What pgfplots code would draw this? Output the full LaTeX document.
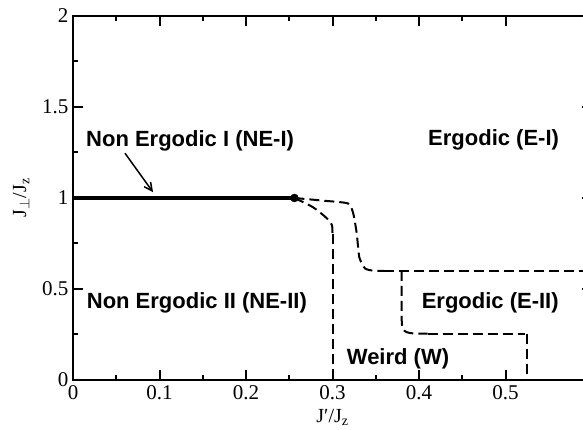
\documentclass[border=0pt]{standalone}
\usepackage{fontspec}
\setmainfont{Liberation Serif}
\newfontfamily\labfont{Liberation Sans}
\usepackage{pgfplots}
\pgfplotsset{compat=1.18}
\usetikzlibrary{arrows.meta}

\begin{document}
\begin{tikzpicture}
\useasboundingbox (0,0) rectangle (583pt,430pt);
\begin{axis}[
  at={(73pt,50pt)}, anchor=south west, scale only axis,
  width=519pt, height=364pt,
  xmin=0, xmax=0.6, ymin=0, ymax=2,
  xtick={0,0.1,0.2,0.3,0.4,0.5},
  ytick={0,0.5,1,1.5,2},
  minor x tick num=1, minor y tick num=1,
  tick align=inside,
  major tick length=10pt, minor tick length=5pt,
  every tick/.style={line width=2pt, black},
  axis line style={line width=2pt},
  ticklabel style={font=\fontsize{21}{24}\selectfont},
  /pgf/number format/assume math mode=true,
  xticklabel style={yshift=-2pt},
  yticklabel style={xshift=-1pt},
  xlabel={J′/J\textsubscript{z}},
  ylabel={J$_\perp$/J\textsubscript{z}},
  label style={font=\fontsize{20}{22}\selectfont},
  xlabel style={yshift=-3pt},
  ylabel style={yshift=6pt},
  clip=false,
]
\addplot[line width=3.5pt, black] coordinates {(0,1) (0.256,1)};
\addplot[only marks, mark=*, mark size=4pt, black] coordinates {(0.256,1)};
\addplot[line width=2pt, black, dash pattern=on 10pt off 5pt, smooth, tension=0.4] coordinates {
  (0.256,1) (0.2775,0.949) (0.2936,0.888) (0.2994,0.85) (0.3,0.80)};
\addplot[line width=2pt, black, dash pattern=on 10pt off 5pt] coordinates {(0.3,0.80) (0.3,0)};
\addplot[line width=2pt, black, dash pattern=on 10pt off 5pt, smooth, tension=0.35] coordinates {
  (0.256,1) (0.29,0.985) (0.318,0.970) (0.324,0.915) (0.328,0.806) (0.331,0.674) (0.3376,0.613) (0.348,0.6) (0.36,0.6)};
\addplot[line width=2pt, black, dash pattern=on 10pt off 5pt] coordinates {(0.36,0.6) (0.62,0.6)};
\addplot[line width=2pt, black, dash pattern=on 10pt off 5pt, smooth, tension=0.4] coordinates {
  (0.38,0.6) (0.38,0.33) (0.3815,0.28) (0.3857,0.263) (0.395,0.255) (0.41,0.255)};
\addplot[line width=2pt, black, dash pattern=on 10pt off 5pt] coordinates {(0.41,0.255) (0.523,0.255)};
\addplot[line width=2pt, black, dash pattern=on 10pt off 5pt] coordinates {(0.5245,0.255) (0.5245,0)};
\tikzset{lab/.style={font=\labfont\bfseries\fontsize{22}{24}\selectfont, inner sep=0pt, anchor=base west}}
\node[lab] at (axis cs:0.015,1.283) {Non Ergodic I (NE-I)};
\node[lab] at (axis cs:0.4104,1.290) {Ergodic (E-I)};
\node[lab] at (axis cs:0.0158,0.392) {Non Ergodic II (NE-II)};
\node[lab] at (axis cs:0.403,0.392) {Ergodic (E-II)};
\node[lab] at (axis cs:0.3164,0.0836) {Weird (W)};
\draw[line width=1.5pt, -{Straight Barb[length=8pt, width=8pt]}] (axis cs:0.0601,1.246) -- (axis cs:0.0925,1.032);
\end{axis}
\end{tikzpicture}
\end{document}
